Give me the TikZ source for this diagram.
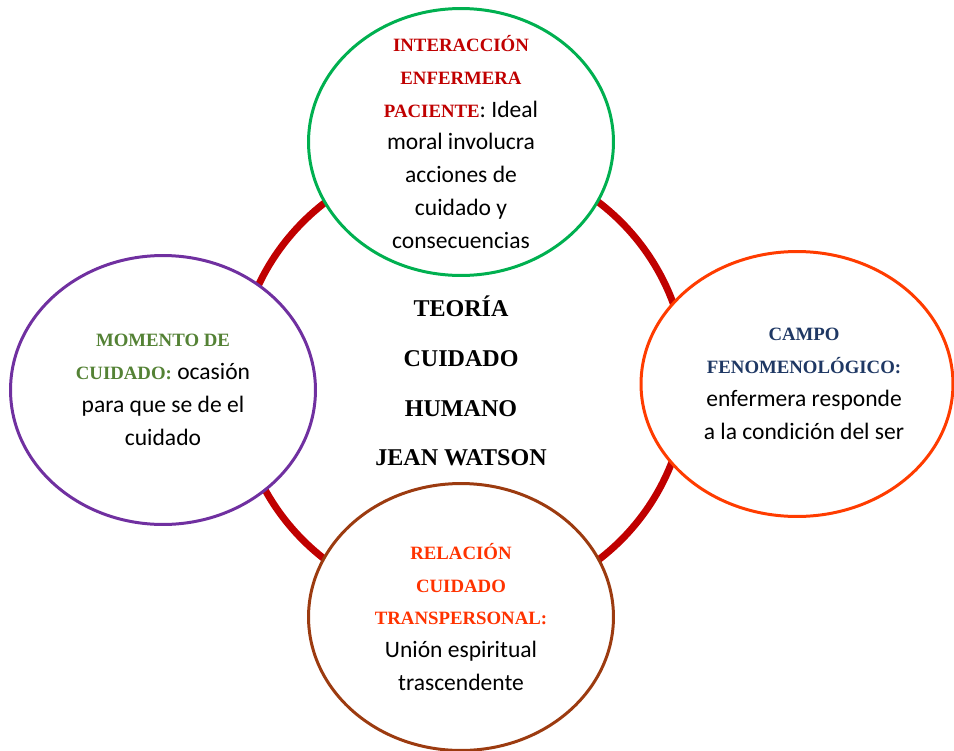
\documentclass[tikz,border=0pt]{standalone}
\usepackage{fontspec}
\setmainfont{Carlito}
\newfontfamily\titlefont{Liberation Serif}
\usepackage{xcolor}
\usepackage{tikz}
\usetikzlibrary{positioning, shapes.geometric}
\definecolor{ringRed}{HTML}{C00000}
\definecolor{careGreen}{HTML}{00B050}
\definecolor{carePurple}{HTML}{7030A0}
\definecolor{careOrange}{HTML}{FF3C00}
\definecolor{careBrown}{HTML}{9C3B10}
\definecolor{headRed}{HTML}{C00000}
\definecolor{headGreen}{HTML}{548235}
\definecolor{headNavy}{HTML}{1F3864}
\definecolor{headOrange}{HTML}{FF3300}
\newcommand{\heading}[2]{{\color{#1}\titlefont\bfseries\fontsize{10.7}{18.7}\selectfont #2}}
\tikzset{
    ring/.style={circle, draw=ringRed, line width=4pt, minimum size=9cm, inner sep=0pt},
    bubble/.style={ellipse, draw, fill=white, line width=1.7pt, inner sep=0pt, minimum width=6.1cm, minimum height=5.34cm},
    body/.style={align=center, inner sep=0pt, font=\fontsize{13.4}{18.7}\selectfont},
    core/.style={align=center, inner sep=0pt, font=\titlefont\bfseries\fontsize{13.7}{28.3}\selectfont}
}
\begin{document}
\begin{tikzpicture}[x=0.02cm, y=-0.02cm]
        \useasboundingbox (0,0) rectangle (954,751);

        % Central ring
        \node[ring] (Theory) at (462,381) {};
        \node[core] (TheoryText) at (461,381) {TEORÍA\\CUIDADO\\HUMANO\\JEAN WATSON};

        % Surrounding concepts
        \node[bubble, draw=careGreen] (Interaction) at (461,142) {};
        \node[bubble, draw=carePurple, minimum height=5.38cm] (Moment) at (163,390) {};
        \node[bubble, draw=careOrange, minimum width=6.24cm, minimum height=5.3cm] (Field) at (797,384) {};
        \node[bubble, draw=careBrown] (Relation) at (461,617) {};

        % Texts
        \node[body] (InteractionText) at (Interaction) {\heading{headRed}{INTERACCIÓN}\\\heading{headRed}{ENFERMERA}\\\heading{headRed}{PACIENTE}: Ideal\\moral involucra\\acciones de\\cuidado y\\consecuencias};
        \node[body] (MomentText) at (Moment) {\heading{headGreen}{MOMENTO DE}\\\heading{headGreen}{CUIDADO:} ocasión\\para que se de el\\cuidado};
        \node[body] (FieldText) at ([xshift=4pt]Field.center) {\heading{headNavy}{CAMPO}\\\heading{headNavy}{FENOMENOLÓGICO:}\\enfermera responde\\a la condición del ser};
        \node[body] (RelationText) at (Relation) {\heading{headOrange}{RELACIÓN}\\\heading{headOrange}{CUIDADO}\\\heading{headOrange}{TRANSPERSONAL:}\\Unión espiritual\\trascendente};

    \end{tikzpicture}
\end{document}
